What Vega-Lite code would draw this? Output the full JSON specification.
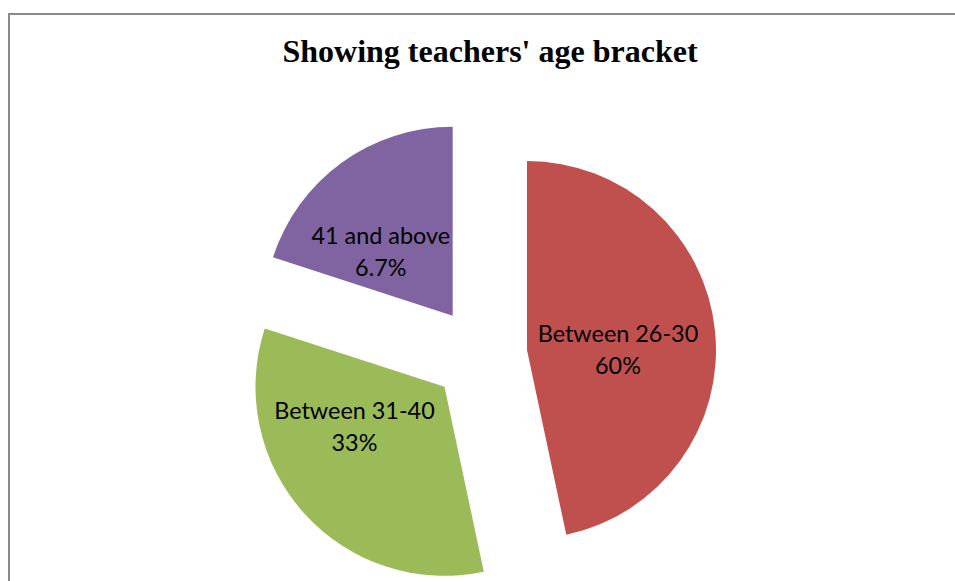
{
  "$schema": "https://vega.github.io/schema/vega-lite/v6.json",
  "width": 952,
  "height": 572,
  "autosize": "none",
  "padding": {"left": 9, "top": 14, "right": -6, "bottom": -5},
  "background": "white",
  "view": {"stroke": "#8a8a8a", "strokeWidth": 2, "fill": "white"},
  "config": {"view": {"stroke": "#8a8a8a", "strokeWidth": 2}},
  "title": {
    "text": "Showing teachers' age bracket",
    "font": "Liberation Serif",
    "fontSize": 32,
    "fontWeight": "bold",
    "color": "black",
    "anchor": "middle",
    "orient": "top",
    "baseline": "alphabetic",
    "offset": -49,
    "dy": 31,
    "dx": 5
  },
  "data": {
    "values": [
      {"age": "Between 26-30", "count": 7, "label": "Between 26-30\n60%"},
      {"age": "Between 31-40", "count": 5, "label": "Between 31-40\n33%"},
      {"age": "41 and above", "count": 3, "label": "41 and above\n6.7%"}
    ]
  },
  "encoding": {
    "theta": {"field": "count", "type": "quantitative", "stack": true},
    "order": {"field": "count", "sort": "descending"}
  },
  "layer": [
    {
      "encoding": {
        "opacity": {"condition": {"test": "datum.age === 'Between 26-30'", "value": 1}, "value": 0}
      },
      "layer": [
        {
          "mark": {"type": "arc", "radius": 189, "xOffset": 42, "yOffset": 50},
          "encoding": {
            "color": {"field": "age", "type": "nominal", "legend": null,
              "scale": {"domain": ["Between 26-30", "Between 31-40", "41 and above"], "range": ["#C0504D", "#9BBB59", "#8064A2"]}}
          }
        },
        {
          "mark": {"type": "text", "radius": 91, "xOffset": 42, "yOffset": 50, "dy": -14, "font": "Lato", "fontSize": 23.4, "lineBreak": "\n", "lineHeight": 32, "align": "center", "baseline": "middle", "color": "black"},
          "encoding": {
            "theta": {"field": "count", "type": "quantitative", "stack": true, "bandPosition": 0.532},
            "detail": {"field": "age", "type": "nominal"},
            "text": {"field": "label", "type": "nominal"}
          }
        }
      ]
    },
    {
      "encoding": {
        "opacity": {"condition": {"test": "datum.age === 'Between 31-40'", "value": 1}, "value": 0}
      },
      "layer": [
        {
          "mark": {"type": "arc", "radius": 189, "xOffset": -40.5, "yOffset": 86.8},
          "encoding": {
            "color": {"field": "age", "type": "nominal", "legend": null}
          }
        },
        {
          "mark": {"type": "text", "radius": 99, "xOffset": -40.5, "yOffset": 86.8, "dy": -16, "font": "Lato", "fontSize": 23.4, "lineBreak": "\n", "lineHeight": 32, "align": "center", "baseline": "middle", "color": "black"},
          "encoding": {
            "theta": {"field": "count", "type": "quantitative", "stack": true, "bandPosition": 0.645},
            "detail": {"field": "age", "type": "nominal"},
            "text": {"field": "label", "type": "nominal"}
          }
        }
      ]
    },
    {
      "encoding": {
        "opacity": {"condition": {"test": "datum.age === '41 and above'", "value": 1}, "value": 0}
      },
      "layer": [
        {
          "mark": {"type": "arc", "radius": 189, "xOffset": -32.3, "yOffset": 15.7},
          "encoding": {
            "color": {"field": "age", "type": "nominal", "legend": null}
          }
        },
        {
          "mark": {"type": "text", "radius": 96, "xOffset": -32.3, "yOffset": 15.7, "dy": -15, "font": "Lato", "fontSize": 23.4, "lineBreak": "\n", "lineHeight": 32, "align": "center", "baseline": "middle", "color": "black"},
          "encoding": {
            "theta": {"field": "count", "type": "quantitative", "stack": true, "bandPosition": 0.326},
            "detail": {"field": "age", "type": "nominal"},
            "text": {"field": "label", "type": "nominal"}
          }
        }
      ]
    }
  ]
}
